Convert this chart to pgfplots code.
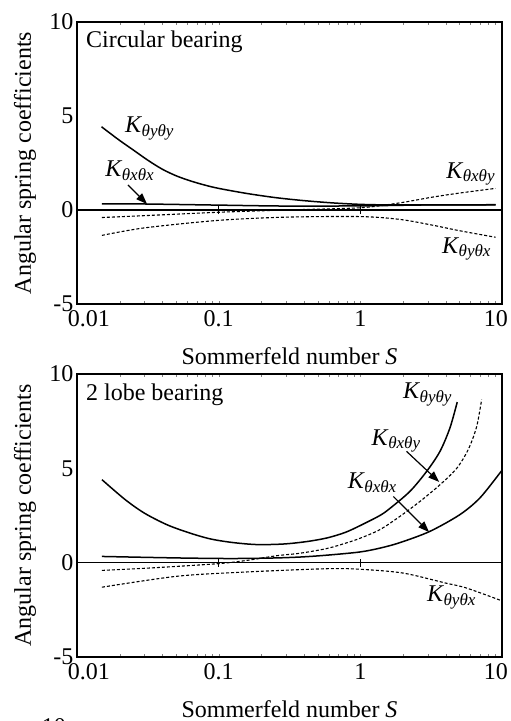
\documentclass[border=0pt]{standalone}
\usepackage{fontspec}
\setmainfont{Liberation Serif}
\usepackage{pgfplots}
\pgfplotsset{compat=1.18}
\usetikzlibrary{arrows.meta}
\newcommand{\Klab}[1]{\textit{K}\kern-0.5pt\raisebox{-3.5pt}{\fontsize{17}{17}\selectfont\textit{#1}}}
\tikzset{
  sol/.style={black, line width=1.5pt, smooth},
  das/.style={black, line width=1.1pt, dash pattern=on 3pt off 2pt, smooth},
  arr/.style={-{Triangle[length=11pt,width=8pt]}, line width=1.2pt},
  lab/.style={anchor=base west, inner sep=0pt, font=\fontsize{24}{28}\selectfont},
  tk/.style={line width=1.2pt},
}
\pgfplotsset{
  every axis/.append style={
    scale only axis, width=425pt,
    xmin=0.01, xmax=10, ymin=-5, ymax=10,
    xtick={0.01,0.1,1,10},
    xticklabels={\makebox[0pt][l]{\kern-9pt 0.01},0.1,1,\makebox[0pt][r]{10\kern-6pt}},
    ytick={-5,0,5,10}, yticklabels={-5,0,5,10},
    major tick length=0pt,
    axis line style={line width=1.5pt},
    tick label style={font=\fontsize{24}{28}\selectfont},
    xticklabel style={yshift=-3pt},
    xlabel={Sommerfeld number \textit{S}},
    ylabel={Angular spring coefficients},
    label style={font=\fontsize{24}{28}\selectfont},
    xlabel style={at={(axis description cs:0.5,0)}, anchor=center, yshift=-52pt},
    ylabel style={at={(axis description cs:0,0.5)}, anchor=center, yshift=52pt},
  },
}
\begin{document}
\begin{tikzpicture}
% ---------- Panel 1: circular bearing
\begin{semilogxaxis}[at={(77pt,-22pt)}, anchor=north west, height=282pt]
\draw[line width=1.6pt] (axis cs:0.01,0) -- (axis cs:10,0);
\draw[tk] ([yshift=-4pt]axis cs:0.1,0) -- ([yshift=4pt]axis cs:0.1,0);
\draw[tk] ([yshift=-4pt]axis cs:1,0) -- ([yshift=4pt]axis cs:1,0);
% K_thy_thy
\addplot[sol, no marks] coordinates {(0.0149,4.43) (0.0158,4.28) (0.02,3.70) (0.0251,3.18) (0.0316,2.65) (0.0398,2.18) (0.0501,1.82) (0.0631,1.55) (0.0794,1.33) (0.1,1.15) (0.158,0.88) (0.251,0.66) (0.398,0.5) (0.631,0.38) (1,0.3) (1.6,0.27) (3,0.27) (9,0.27)};
% K_thx_thx
\addplot[sol, no marks] coordinates {(0.015,0.33) (0.03,0.32) (0.1,0.26) (0.3,0.21) (1,0.22) (3,0.27) (9,0.28)};
% K_thx_thy
\addplot[das, no marks] coordinates {(0.015,-0.4) (0.03,-0.3) (0.1,-0.12) (0.3,0.0) (1,0.12) (1.9,0.38) (3.2,0.68) (5,0.9) (9,1.15)};
% K_thy_thx
\addplot[das, no marks] coordinates {(0.015,-1.35) (0.03,-0.95) (0.1,-0.55) (0.3,-0.38) (1,-0.35) (1.9,-0.5) (3.2,-0.8) (5,-1.1) (9,-1.45)};
\node[lab] at (rel axis cs:0.021,0.911) {Circular bearing};
\node[lab] at (axis cs:0.0218,4.1) {\Klab{θyθy}};
\node[lab] at (axis cs:0.0158,1.77) {\Klab{θxθx}};
\node[lab, anchor=base east] at (axis cs:8.9,1.7) {\Klab{θxθy}};
\node[lab] at (axis cs:3.77,-2.29) {\Klab{θyθx}};
\draw[arr] (axis cs:0.0229,1.33) -- (axis cs:0.0312,0.32);
\end{semilogxaxis}
% ---------- Panel 2: 2 lobe bearing
\begin{semilogxaxis}[at={(77pt,-374pt)}, anchor=north west, height=283pt]
\draw[line width=1.6pt] (axis cs:0.01,0) -- (axis cs:10,0);
\draw[tk] ([yshift=-4pt]axis cs:0.1,0) -- ([yshift=4pt]axis cs:0.1,0);
\draw[tk] ([yshift=-4pt]axis cs:1,0) -- ([yshift=4pt]axis cs:1,0);
% K_thy_thy
\addplot[sol, no marks] coordinates {(0.015,4.40) (0.0219,3.34) (0.03,2.62) (0.0432,2.01) (0.062,1.58) (0.0873,1.26) (0.125,1.07) (0.186,0.96) (0.288,0.99) (0.42,1.12) (0.581,1.31) (0.78,1.6) (1,1.97) (1.374,2.5) (1.62,2.88) (2.24,3.78) (2.94,4.84) (3.65,5.9) (4.29,7.14) (4.83,8.51)};
% K_thx_thx
\addplot[sol, no marks] coordinates {(0.015,0.33) (0.0316,0.28) (0.063,0.24) (0.126,0.22) (0.25,0.25) (0.4,0.31) (0.63,0.42) (1,0.57) (1.374,0.77) (1.9,1.06) (3.1,1.66) (5.05,2.55) (6.98,3.43) (9.66,4.75) (10,4.9)};
% K_thx_thy
\addplot[das, no marks] coordinates {(0.015,-0.41) (0.035,-0.27) (0.1,-0.05) (0.158,0.12) (0.258,0.37) (0.375,0.5) (0.58,0.75) (0.8,1.05) (1,1.3) (1.374,1.75) (1.9,2.45) (2.64,3.25) (3.65,4.13) (4.79,5.0) (5.78,6.0) (6.62,7.2) (7.18,8.64)};
% K_thy_thx
\addplot[das, no marks] coordinates {(0.015,-1.3) (0.0508,-0.72) (0.15,-0.5) (0.58,-0.32) (1,-0.35) (2,-0.55) (4,-1.08) (5.6,-1.34) (9.8,-2.0)};
\node[lab] at (rel axis cs:0.021,0.908) {2 lobe bearing};
\node[lab] at (axis cs:2.0,8.69) {\Klab{θyθy}};
\node[lab] at (axis cs:1.2,6.22) {\Klab{θxθy}};
\node[lab] at (axis cs:0.815,3.92) {\Klab{θxθx}};
\node[lab] at (axis cs:2.95,-2.07) {\Klab{θyθx}};
\draw[arr] (axis cs:2.12,5.9) -- (axis cs:3.6,4.28);
\draw[arr] (axis cs:1.71,3.51) -- (axis cs:3.06,1.62);
\end{semilogxaxis}
% top of the next (cut-off) panel's tick label
\node[anchor=east, inner sep=0pt, font=\fontsize{24}{28}\selectfont] at (66pt,-727pt) {10};
\pgfresetboundingbox
\useasboundingbox (0,0) rectangle (511pt,-721pt);
\end{tikzpicture}
\end{document}
